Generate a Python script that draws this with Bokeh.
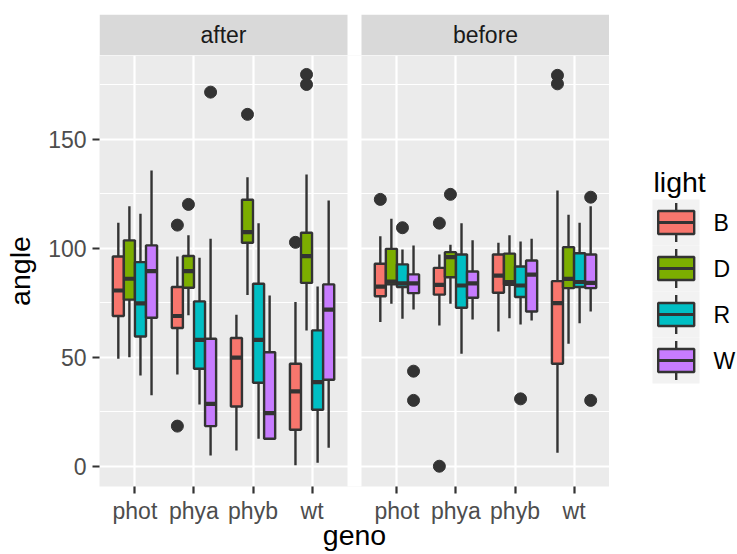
from bokeh.plotting import figure
from bokeh.layouts import row, column
from bokeh.models import Range1d, FixedTicker, ColumnDataSource
from bokeh.core.properties import value
from bokeh.embed import file_html
from bokeh.resources import INLINE

# ---------------- data ----------------
facets = ["after", "before"]
genos = ["phot", "phya", "phyb", "wt"]
lights = ["B", "D", "R", "W"]
light_colors = ["#F8766D", "#7CAE00", "#00BFC4", "#C77CFF"]

# order: phot B,D,R,W | phya B,D,R,W | phyb B,D,R,W | wt B,D,R,W
after_ymin = [49.4, 50.1, 41.7, 32.6, 42.2, 69.3, 28.4, 5.0, 7.3, 78.6, 12.7, 12.7, 0.5, 62.4, 1.7, 8.6]
after_q1 = [69.0, 76.5, 59.6, 68.2, 63.5, 82.0, 44.8, 18.5, 27.5, 102.6, 38.4, 12.7, 16.8, 84.2, 26.0, 39.8]
after_med = [80.7, 86.1, 74.8, 89.6, 69.0, 89.6, 58.1, 28.7, 49.9, 107.5, 58.1, 24.5, 34.4, 96.5, 38.7, 71.9]
after_q3 = [96.3, 103.7, 93.7, 101.4, 82.3, 96.5, 75.7, 58.6, 58.9, 122.3, 83.8, 52.4, 47.1, 107.2, 62.4, 83.5]
after_ymax = [111.8, 119.4, 115.9, 135.8, 96.3, 106.0, 95.7, 104.4, 69.6, 132.7, 111.6, 78.4, 75.4, 133.9, 82.5, 122.0]

before_ymin = [66.2, 74.6, 67.7, 72.0, 64.7, 74.6, 51.7, 67.4, 61.9, 68.0, 65.1, 67.0, 6.3, 56.3, 65.7, 71.1]
before_q1 = [78.1, 83.5, 82.3, 79.5, 78.8, 86.8, 72.8, 77.4, 79.7, 83.3, 77.7, 71.1, 47.1, 81.8, 82.3, 81.8]
before_med = [82.5, 84.8, 84.0, 84.0, 83.3, 96.0, 83.0, 84.0, 87.5, 84.6, 83.0, 88.0, 74.9, 86.0, 84.6, 84.2]
before_q3 = [93.0, 99.8, 92.7, 88.1, 91.1, 98.3, 97.2, 89.4, 97.2, 97.6, 91.7, 94.5, 85.0, 100.6, 97.8, 97.2]
before_ymax = [105.6, 113.6, 99.5, 101.4, 97.2, 101.7, 111.6, 103.7, 102.6, 106.0, 103.2, 104.4, 126.6, 115.4, 111.8, 119.4]

out_facet = ["after"] * 8 + ["before"] * 12
out_geno = ["phya", "phya", "phya", "phya", "phyb", "wt", "wt", "wt",
            "phot", "phot", "phot", "phot", "phya", "phya", "phya", "phyb", "wt", "wt", "wt", "wt"]
out_light = ["B", "B", "D", "W", "D", "B", "D", "D",
             "B", "R", "W", "W", "B", "B", "D", "R", "B", "B", "W", "W"]
out_value = [110.7, 18.5, 120.2, 171.7, 161.5, 102.8, 179.8, 175.2,
             122.5, 109.5, 43.7, 30.3, 111.6, 0.1, 124.8, 31.0, 179.4, 175.5, 123.5, 30.3]

y_ticks = [0, 50, 100, 150]
y_minor = [25, 75, 125, 175]

# ---------------- geometry ----------------
FONT = "Liberation Sans"
DARK = "#333333"
EXP = 0.6                      # discrete axis expansion
PANEL_W = len(genos) - 1 + 2 * EXP
GAP = 14 / 59.05               # panel spacing in data units
facet_off = [i * (PANEL_W + GAP) for i in range(len(facets))]
DODGE = 0.75
BW = DODGE / len(lights)
light_off = [(k - (len(lights) - 1) / 2) * BW for k in range(len(lights))]

stats = {
    "after": (after_ymin, after_q1, after_med, after_q3, after_ymax),
    "before": (before_ymin, before_q1, before_med, before_q3, before_ymax),
}

bx, ymin, q1, med, q3, ymax, col = [], [], [], [], [], [], []
for fi, f in enumerate(facets):
    s_ymin, s_q1, s_med, s_q3, s_ymax = stats[f]
    for gi, g in enumerate(genos):
        for li, l in enumerate(lights):
            k = gi * len(lights) + li
            bx.append(facet_off[fi] + gi + 1 + light_off[li])
            ymin.append(s_ymin[k]); q1.append(s_q1[k]); med.append(s_med[k])
            q3.append(s_q3[k]); ymax.append(s_ymax[k]); col.append(light_colors[li])

box_src = ColumnDataSource(dict(
    x=bx, ymin=ymin, q1=q1, med=med, q3=q3, ymax=ymax, color=col,
    xl=[v - BW / 2 for v in bx], xr=[v + BW / 2 for v in bx]))

ox = [facet_off[facets.index(f)] + genos.index(g) + 1 + light_off[lights.index(l)]
      for f, g, l in zip(out_facet, out_geno, out_light)]
out_src = ColumnDataSource(dict(x=ox, y=out_value))

x_lo = 1 - EXP
x_hi = facet_off[-1] + len(genos) + EXP
xr = Range1d(x_lo, x_hi)

ML, FW = 99, 510          # left border, frame width
STRIP_TOP, STRIP_FH = 14, 41
FRAME_H, BOT = 431, 68
MAIN_H = FRAME_H + BOT
STRIP_H = STRIP_TOP + STRIP_FH

# ---------------- main panel figure ----------------
p = figure(width=ML + FW, height=MAIN_H, x_range=xr, y_range=Range1d(-9.2, 188.5),
           output_backend="svg", toolbar_location=None,
           min_border_left=ML, min_border_right=0, min_border_top=0, min_border_bottom=BOT,
           background_fill_color="#EBEBEB", border_fill_color="white", outline_line_color=None)

x_tick_vals = [facet_off[fi] + gi + 1 for fi in range(len(facets)) for gi in range(len(genos))]
xt = FixedTicker(ticks=x_tick_vals)
yt = FixedTicker(ticks=y_ticks, minor_ticks=y_minor)
p.xaxis.ticker = xt
p.yaxis.ticker = yt
p.xgrid.ticker = xt
p.ygrid.ticker = yt
p.xaxis.major_label_overrides = {t: genos[i % len(genos)] for i, t in enumerate(x_tick_vals)}

p.grid.grid_line_color = "white"
p.grid.grid_line_width = 2.2
p.ygrid.minor_grid_line_color = "white"
p.ygrid.minor_grid_line_width = 1.1

for ax in (p.xaxis[0], p.yaxis[0]):
    ax.axis_line_color = None
    ax.major_tick_line_color = DARK
    ax.major_tick_line_width = 2.2
    ax.major_tick_out = 7
    ax.major_tick_in = 0
    ax.minor_tick_line_color = None
    ax.major_label_text_color = "#4D4D4D"
    ax.major_label_text_font = FONT
    ax.major_label_text_font_size = "23px"
    ax.major_label_text_line_height = 1.0
    ax.axis_label_text_font = FONT
    ax.axis_label_text_font_size = "28.5px"
    ax.axis_label_text_font_style = "normal"
    ax.axis_label_text_color = "black"
    ax.axis_label_text_line_height = 1.0

p.xaxis.axis_label = "geno"
p.yaxis.axis_label = "angle"
p.xaxis.major_label_standoff = 4
p.xaxis.axis_label_standoff = -8
p.yaxis.major_label_standoff = 6
p.yaxis.axis_label_standoff = 9

# white gap between facets
p.quad(left=[facet_off[i] + len(genos) + EXP for i in range(len(facets) - 1)],
       right=[facet_off[i + 1] + 1 - EXP for i in range(len(facets) - 1)],
       bottom=-20, top=220, fill_color="white", line_color=None)

p.segment(x0="x", y0="ymin", x1="x", y1="ymax", source=box_src, line_color=DARK, line_width=2.4)
p.vbar(x="x", width=BW, bottom="q1", top="q3", source=box_src, fill_color="color",
       line_color=DARK, line_width=2.4)
p.segment(x0="xl", y0="med", x1="xr", y1="med", source=box_src, line_color=DARK,
          line_width=4.2, line_cap="butt")
p.scatter(x="x", y="y", source=out_src, size=12, color=DARK)

# ---------------- strip figure ----------------
s = figure(width=ML + FW, height=STRIP_H, x_range=xr, y_range=Range1d(0, 1),
           output_backend="svg", toolbar_location=None,
           min_border_left=ML, min_border_right=0, min_border_top=STRIP_TOP, min_border_bottom=0,
           x_axis_location=None, y_axis_location=None, outline_line_color=None,
           background_fill_color="white", border_fill_color="white")
s.grid.visible = False
s.quad(left=[fo + 1 - EXP for fo in facet_off], right=[fo + len(genos) + EXP for fo in facet_off],
       bottom=0, top=1, fill_color="#D9D9D9", line_color=None)
s.text(x=[fo + (len(genos) + 1) / 2 for fo in facet_off], y=[0.5] * len(facets), text=facets,
       text_align="center", text_baseline="middle", text_font=value(FONT),
       text_font_size="23px", text_color="#1A1A1A")

# ---------------- legend figure ----------------
LW, LH = 737 - (ML + FW), STRIP_H + MAIN_H
lg = figure(width=LW, height=LH, x_range=Range1d(0, LW), y_range=Range1d(LH, 0),
            output_backend="svg", toolbar_location=None, min_border=0,
            x_axis_location=None, y_axis_location=None, outline_line_color=None,
            background_fill_color="white", border_fill_color="white")
lg.grid.visible = False

KEY = 46
KEY_TOP = 199
KX0, KX1 = 43, 90
KCX = 66.7
BOXHW, BOXHH, WHH = 18, 11.5, 19.5
kc = [KEY_TOP + KEY * (i + 0.5) for i in range(len(lights))]

lg.text(x=[44], y=[181], text=["light"], text_align="left", text_baseline="alphabetic",
        text_font=value(FONT), text_font_size="28.5px", text_color="black")
lg.quad(left=KX0, right=KX1, top=[c - KEY / 2 for c in kc], bottom=[c + KEY / 2 for c in kc],
        fill_color="#F2F2F2", line_color=None)
lg.segment(x0=KCX, x1=KCX, y0=[c - WHH for c in kc], y1=[c + WHH for c in kc],
           line_color=DARK, line_width=2.4)
lg.quad(left=KCX - BOXHW, right=KCX + BOXHW, top=[c - BOXHH for c in kc],
        bottom=[c + BOXHH for c in kc], fill_color=light_colors, line_color=DARK, line_width=2.4)
lg.segment(x0=KCX - BOXHW, x1=KCX + BOXHW, y0=kc, y1=kc, line_color=DARK, line_width=3.2,
           line_cap="butt")
lg.text(x=[104] * len(lights), y=kc, text=lights, text_align="left", text_baseline="middle",
        text_font=value(FONT), text_font_size="23px", text_color="black")

layout = row(column(s, p), lg)
open("out.html", "w").write(file_html(layout, INLINE))
